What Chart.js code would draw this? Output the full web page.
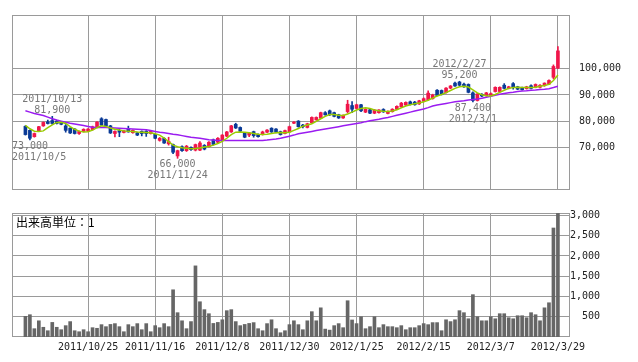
<!DOCTYPE html>
<html>
<head>
<meta charset="utf-8">
<script src="https://cdn.jsdelivr.net/npm/chart.js@4.4.1/dist/chart.umd.min.js"></script>
<style>
  html, body { margin: 0; padding: 0; background: #fff; }
  #wrap { position: relative; width: 638px; height: 362px; }
  #price { position: absolute; left: 0; top: 0; }
  #vol { position: absolute; left: 0; top: 205px; }
</style>
</head>
<body>
<div id="wrap">
  <canvas id="price" width="638" height="205"></canvas>
  <canvas id="vol" width="638" height="157"></canvas>
</div>
<script>
// daily prices, 2011/10/4 .. 2012/3/29 (120 trading days)
const opens = [78100,76600,74200,76500,78300,79800,80300,80100,79700,78300,
  77400,77100,75400,76200,76300,76900,78000,81000,80700,78300,
  75400,76500,75800,77100,75700,75600,76200,76200,75400,75100,
  72800,73600,71500,71200,66900,70400,68900,70100,69100,69100,
  70900,70400,73000,72100,73000,74400,76000,78900,77700,75600,
  74800,76100,75100,75000,75900,77400,77100,76100,75400,76000,
  79300,80100,78600,77700,79500,80600,81200,83300,84000,83300,
  82500,81300,83700,86000,84900,86300,83500,84400,83100,83300,
  84500,83000,83700,84600,85500,86200,87400,87300,86600,87600,
  88200,88600,91800,91700,90900,92600,94500,94900,94100,94000,
  90800,87900,90200,89700,89900,91300,91300,93700,92500,94300,
  93100,92800,92400,93500,92900,92900,93500,94100,96700,100200];
const highs = [78400,76800,75600,78100,79800,80500,81900,80400,80000,78800,
  77600,77300,76400,77200,77300,78200,79900,81400,80900,78500,
  76400,77000,76600,78200,76800,75900,76400,76500,76400,75300,
  73900,73800,74000,71400,69100,70700,70900,70400,71400,72300,
  71200,72300,73300,73900,75000,76200,78500,79300,77900,75800,
  75800,76300,75300,76300,76900,77600,77300,76300,76700,78200,
  79900,80300,78900,79300,81700,81700,83500,83700,84300,83500,
  82700,82500,88000,87500,86500,86500,84800,84600,84500,84500,
  84800,84000,84800,85900,87200,87400,87700,87600,88000,88900,
  91600,90300,92000,91900,92800,93600,94900,95200,94500,94200,
  91200,90600,90500,91000,90800,93100,93100,94300,93300,94700,
  93300,93000,93300,93800,94200,93900,94600,95700,101400,108300];
const lows = [74800,73000,74000,76300,78100,79000,78900,79000,78700,75900,
  75400,75200,75100,76000,76100,76700,77800,78400,78200,75400,
  74100,74200,75600,75900,75500,74600,74500,74300,75200,73400,
  72500,71600,71000,67800,66000,68600,68600,69000,68800,68900,
  69200,70200,71000,71900,72800,74200,75800,77300,76100,73800,
  74200,74000,74000,74800,75700,75800,75600,74800,75200,75800,
  79100,77800,77500,77500,79300,80400,81000,82300,82200,81700,
  81100,81100,83200,83300,84700,83700,83300,82900,82900,83100,
  83400,82800,83500,84400,85300,86000,86200,86100,86400,87400,
  88000,88400,89600,90000,90700,92400,93200,93500,92900,90800,
  87400,87700,89400,89500,89700,91100,91100,92300,92300,92200,
  92000,91800,92200,92300,92700,92700,93300,93900,96100,100000];
const closes = [75000,73600,75400,78000,79600,79200,79200,79200,78900,76600,
  75600,75400,76200,77000,77100,78000,79700,78600,78300,75600,
  76200,75900,76400,76000,76600,74800,75400,75400,76200,73600,
  73600,71800,72400,68300,68900,68900,70600,69300,71200,71800,
  69500,72100,71300,73600,74800,76000,78300,77500,76300,74000,
  75600,74600,74200,76000,76700,76000,75900,75000,76500,78000,
  79700,78000,78000,79100,81500,81500,83300,82500,82500,81900,
  81300,82300,86500,84600,86300,84000,84600,83100,84300,84300,
  83600,83800,84600,85700,86900,87200,86400,86300,87800,88600,
  90700,90000,89800,90200,92600,93400,93400,93700,93100,91000,
  87900,90400,89600,90800,90500,92900,92900,92500,93100,93100,
  92200,92000,93100,92500,94000,93700,94500,95500,100800,106700];
// moving averages as drawn (short = yellow green, long = purple)
const maShort = [78500,77200,76300,76200,76400,77600,78700,79600,79700,79200,
  78000,77000,76300,76000,76100,76700,77600,78300,78100,77500,
  77000,76700,76400,76300,76200,76000,75900,75800,75700,75300,
  74800,73700,72300,71000,70400,70000,69800,69600,69700,69900,
  70300,70500,71000,71600,72400,73600,75000,75900,76000,75900,
  75700,75400,75100,75000,75100,75400,75700,75800,75700,75900,
  76600,77300,78200,78600,79100,80000,81000,81900,82600,82600,
  82300,82200,82800,83500,84300,84900,85200,84900,84300,84000,
  83800,83700,83900,84400,85100,85800,86300,86700,87000,87400,
  88000,88800,89600,90200,90900,91700,92500,93100,93300,93000,
  91900,90800,90100,89700,89600,90200,91000,91800,92500,92800,
  92900,92800,92800,92800,92900,93300,93600,94000,95500,97600];
const maLong = [84000,83500,83000,82600,82200,81600,81000,80500,80100,79700,
  79300,79000,78700,78400,78100,77800,77700,77700,77700,77600,
  77500,77400,77300,77200,77100,77000,76900,76800,76500,76200,
  75900,75700,75400,75100,74900,74600,74300,74000,73800,73600,
  73300,73000,72900,72800,72800,72800,72800,72800,72800,72800,
  72800,72800,72800,72800,72900,73100,73300,73600,74000,74400,
  74800,75300,75600,75900,76200,76500,76800,77100,77400,77700,
  78000,78300,78600,78900,79200,79500,79900,80200,80500,80800,
  81200,81500,81900,82300,82700,83100,83500,83900,84300,84700,
  85200,85800,86200,86500,86800,87100,87400,87600,87800,88100,
  88300,88500,88800,89100,89500,89900,90300,90600,90800,91000,
  91300,91500,91600,91800,91900,92100,92200,92400,92800,93300];
const volumes = [510,550,205,400,240,155,360,240,180,280,
  380,155,130,180,130,230,215,305,255,310,
  330,255,130,305,255,330,180,330,130,280,
  230,330,255,1165,600,400,205,380,1755,870,
  675,575,335,360,425,650,675,380,280,310,
  335,355,205,155,330,425,205,105,155,305,
  400,305,180,400,625,400,720,195,170,280,
  330,230,895,420,330,500,205,255,500,230,
  305,255,255,230,280,180,230,230,280,330,
  305,355,355,155,425,380,425,650,600,450,
  1045,500,400,400,500,450,575,575,475,450,
  525,525,475,600,550,400,720,845,2690,3050];
// axis ticks
const tickIndex = [14, 29, 44, 59, 74, 89, 104, 119];
const tickLabels = ['2011/10/25','2011/11/16','2011/12/8','2011/12/30','2012/1/25','2012/2/15','2012/3/7','2012/3/29'];
const priceTicks = [70000, 80000, 90000, 100000];
const volumeTicks = [500, 1000, 1500, 2000, 2500, 3000];
// high / low notes
const markIndex = [6, 1, 34, 97, 100];
const markKind = ['high', 'low', 'low', 'high', 'low'];
const markDate = ['2011/10/13', '2011/10/5', '2011/11/24', '2012/2/27', '2012/3/1'];

const UP = '#f0164a';
const DOWN = '#0a3a96';
const GRID = '#9a9a9a';
const MONO = '"DejaVu Sans Mono", monospace';

const idx = opens.map((_, i) => i);
const candleColor = idx.map(i => closes[i] >= opens[i] ? UP : DOWN);
const fmt = v => v.toLocaleString('en-US');

const frame = {
  id: 'frame',
  beforeDatasetsDraw(chart) {
    const { ctx, chartArea: a } = chart;
    ctx.save();
    ctx.strokeStyle = GRID;
    ctx.lineWidth = 1;
    ctx.strokeRect(Math.round(a.left) + 0.5, Math.round(a.top) + 0.5,
      Math.round(a.right - a.left) - 1, Math.round(a.bottom - a.top) - 1);
    ctx.restore();
  }
};

const marks = {
  id: 'marks',
  afterDatasetsDraw(chart) {
    const { ctx, chartArea: a, scales: { x, y } } = chart;
    ctx.save();
    ctx.font = '10px ' + MONO;
    ctx.fillStyle = '#777';
    ctx.textBaseline = 'middle';
    ctx.textAlign = 'left';
    markIndex.forEach((i, k) => {
      const high = markKind[k] === 'high';
      const v = high ? highs[i] : lows[i];
      const px = x.getPixelForValue(i);
      const py = y.getPixelForValue(v);
      const rows = high ? [[markDate[k], -17], [fmt(v), -6]] : [[fmt(v), 6.5], [markDate[k], 17.5]];
      rows.forEach(([t, dy]) => {
        const w = ctx.measureText(t).width;
        const tx = Math.max(a.left, px - w / 2);
        ctx.fillText(t, tx, py + dy);
      });
    });
    ctx.restore();
  }
};

const unitLabel = {
  id: 'unitLabel',
  afterDraw(chart) {
    const { ctx, chartArea: a } = chart;
    ctx.save();
    ctx.font = '12px "Noto Sans CJK JP", sans-serif';
    ctx.fillStyle = '#000';
    ctx.textBaseline = 'middle';
    ctx.fillText('出来高単位：1', a.left + 4, a.top + 9);
    ctx.restore();
  }
};

const xScale = (showLabels, h) => ({
  type: 'linear',
  min: -3,
  max: 121.7,
  offset: false,
  afterBuildTicks: s => { s.ticks = tickIndex.map(v => ({ value: v })); },
  afterFit: s => { s.height = h; },
  grid: { color: GRID, drawTicks: false, offset: false },
  border: { display: false },
  ticks: {
    display: showLabels,
    autoSkip: false,
    maxRotation: 0,
    padding: 4,
    color: '#222',
    font: { family: MONO, size: 10 },
    callback: (v, k) => tickLabels[k]
  }
});

new Chart(document.getElementById('price'), {
  type: 'bar',
  data: {
    datasets: [
      { type: 'line', data: idx.map(i => ({ x: i, y: maShort[i] })), borderColor: '#99cc00', borderWidth: 1.5, pointRadius: 0, order: 0 },
      { type: 'line', data: idx.map(i => ({ x: i, y: maLong[i] })), borderColor: '#9a1cf0', borderWidth: 1.5, pointRadius: 0, order: 1 },
      { data: idx.map(i => ({ x: i, y: [opens[i], closes[i]] })), backgroundColor: candleColor, barThickness: 3, minBarLength: 1, grouped: false, order: 2 },
      { data: idx.map(i => ({ x: i, y: [lows[i], highs[i]] })), backgroundColor: candleColor, barThickness: 1, grouped: false, order: 3 }
    ]
  },
  options: {
    responsive: false,
    animation: false,
    layout: { padding: { left: 12, top: 10, right: 0, bottom: 0 } },
    plugins: { legend: { display: false }, tooltip: { enabled: false } },
    scales: {
      x: xScale(false, 8),
      y: {
        position: 'right',
        min: 54000,
        max: 120300,
        afterBuildTicks: s => { s.ticks = priceTicks.map(v => ({ value: v })); },
        afterFit: s => { s.width = 68; },
        grid: { color: GRID, drawTicks: false },
        border: { display: false },
        ticks: { padding: 9, color: '#222', font: { family: MONO, size: 10 }, callback: v => fmt(v) }
      }
    }
  },
  plugins: [frame, marks]
});

new Chart(document.getElementById('vol'), {
  type: 'bar',
  data: {
    datasets: [
      { data: idx.map(i => ({ x: i, y: volumes[i] })), backgroundColor: '#666', barThickness: 3 }
    ]
  },
  options: {
    responsive: false,
    animation: false,
    layout: { padding: { left: 12, top: 8, right: 38, bottom: 0 } },
    plugins: { legend: { display: false }, tooltip: { enabled: false } },
    scales: {
      x: xScale(true, 25),
      y: {
        position: 'right',
        min: 0,
        max: 3060,
        afterBuildTicks: s => { s.ticks = volumeTicks.map(v => ({ value: v })); },
        afterFit: s => { s.width = 30; },
        grid: { color: GRID, drawTicks: false },
        border: { display: false },
        ticks: { padding: 0, crossAlign: 'far', color: '#222', font: { family: MONO, size: 10 }, callback: v => fmt(v) }
      }
    }
  },
  plugins: [frame, unitLabel]
});
</script>
</body>
</html>
